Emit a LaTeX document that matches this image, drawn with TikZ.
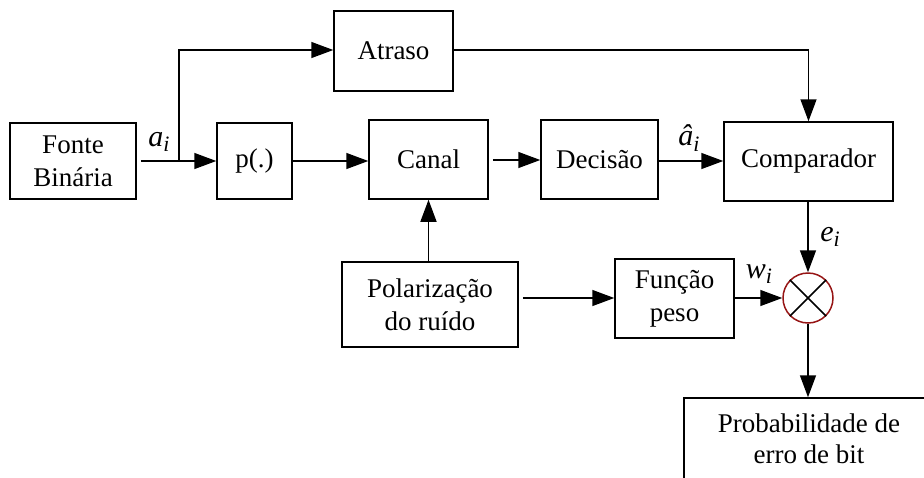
\documentclass[tikz,border=0pt]{standalone}
\usepackage{fontspec}
\setmainfont{Liberation Serif}
\usetikzlibrary{arrows.meta}
\definecolor{circred}{RGB}{150,20,20}
\newcommand\lbl[2]{\textit{#1}\raisebox{-0.4ex}{\fontsize{22}{22}\selectfont\textit{#2}}}
\begin{document}
\begin{tikzpicture}[x=1pt,y=-1pt,
  blk/.style={draw,line width=1.5pt,inner sep=0pt,align=center,font=\fontsize{27}{33}\selectfont},
  con/.style={line width=1.5pt,-{Triangle[length=22pt,width=16pt]}},
  wire/.style={line width=1.5pt},
  lab/.style={inner sep=0pt,font=\fontsize{30}{33}\selectfont}]
\useasboundingbox (0,0) rectangle (924,477);
\begin{scope}
\clip (0,0) rectangle (924,477);
\node[blk,minimum width=126pt,minimum height=76pt] (fonte) at (73,161) {Fonte\\Binária};
\node[blk,minimum width=75pt,minimum height=76pt] (p) at (254.5,161) {p(.)};
\node[blk,minimum width=119pt,minimum height=80pt] (atraso) at (393.5,51) {Atraso};
\node[blk,minimum width=119pt,minimum height=79pt] (canal) at (428.5,159.5) {Canal};
\node[blk,minimum width=117pt,minimum height=79pt] (decisao) at (599.5,159.5) {Decisão};
\node[blk,minimum width=169pt,minimum height=79pt] (comp) at (808.5,161.5) {Comparador};
\node[blk,minimum width=176pt,minimum height=85pt] (polar) at (430,304.5) {Polarização\\do ruído};
\node[blk,minimum width=119pt,minimum height=79pt] (funcao) at (674.5,298.5) {Função\\peso};
\node[draw=circred,line width=1.5pt,circle,minimum size=50pt,inner sep=0pt] (mult) at (808,298) {};
\draw[wire] (mult.north west) -- (mult.south east) (mult.north east) -- (mult.south west);
\node[blk,minimum width=250pt,minimum height=100pt,text depth=18pt,font=\fontsize{27}{31}\selectfont] (prob) at (809,448) {Probabilidade de\\erro de bit};

\coordinate (br) at (179,161);
\draw[wire,shorten <=4pt] (fonte.east) -- (br);
\draw[con] (br) -- (p.west);
\draw[con] (br) |- (atraso.west |- 0,50);
\draw[con] (atraso.east |- 0,50) -| (comp.north);
\draw[con] (p.east) -- (canal.west |- p.east);
\draw[con,shorten <=4pt] (canal.east |- 0,160) -- (decisao.west |- 0,160);
\draw[con] (decisao.east |- 0,161) -- (comp.west |- 0,161);
\draw[con] (polar.north -| canal.south) -- (canal.south);
\draw[con,shorten <=4pt] (polar.east |- 0,298) -- (funcao.west |- 0,298);
\draw[con] (funcao.east |- mult.west) -- (mult.west);
\draw[con] (comp.south -| mult.north) -- (mult.north);
\draw[con] (mult.south) -- (prob.north -| mult.south);

\node[lab] (la) at (159,142) {\lbl{a}{i}};
\node[lab] (lah) at (689,138) {\lbl{â}{i}};
\node[lab] (le) at (830,237) {\lbl{e}{i}};
\node[lab] (lw) at (759,274) {\lbl{w}{i}};
\end{scope}
\end{tikzpicture}
\end{document}
